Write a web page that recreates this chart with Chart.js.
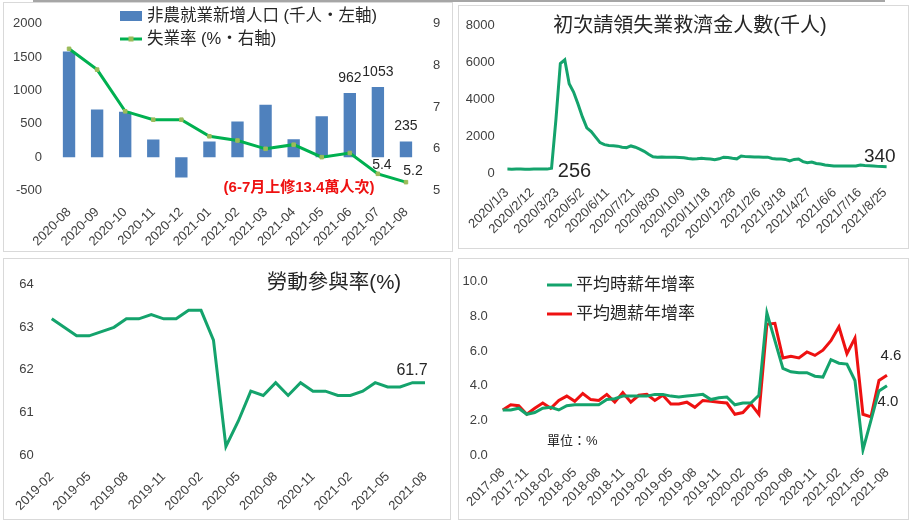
<!DOCTYPE html>
<html>
<head>
<meta charset="utf-8">
<script src="https://cdn.jsdelivr.net/npm/chart.js"></script>
<style>
body { margin: 0; background: #fff; width: 915px; height: 523px; overflow: hidden; position: relative; }
.panel { position: absolute; border: 1px solid #d9d9d9; }
.panel canvas { display: block; }
#topLine { position: absolute; left: 33px; top: 0; width: 852px; height: 2px; background: #a6a6a6; }
</style>
</head>
<body>
<div id="topLine"></div>
<div class="panel" style="left:3px;top:2px;"><canvas id="jobsChart" width="448" height="248"></canvas></div>
<div class="panel" style="left:458px;top:5px;"><canvas id="claimsChart" width="449" height="242"></canvas></div>
<div class="panel" style="left:3px;top:258px;"><canvas id="lfprChart" width="446" height="260"></canvas></div>
<div class="panel" style="left:458px;top:258px;"><canvas id="wageChart" width="449" height="260"></canvas></div>

<script>
// ---- data ----
const jobMonths = ['2020-08', '2020-09', '2020-10', '2020-11', '2020-12', '2021-01', '2021-02',
    '2021-03', '2021-04', '2021-05', '2021-06', '2021-07', '2021-08'];
const payrolls = [1583, 716, 680, 264, -306, 233, 536, 785, 269, 614, 962, 1053, 235];
const unemployment = [8.4, 7.9, 6.9, 6.7, 6.7, 6.3, 6.2, 6.0, 6.1, 5.8, 5.9, 5.4, 5.2];

// weekly initial claims, first week ends 2020/1/4, last 2021/8/28
const claimsAxisStart = new Date(2020, 0, 3);
const claimsFirstDay = 1;
const claims = [212, 207, 218, 215, 205, 203, 212, 217, 216, 211, 256, 2920, 5950, 6150,
    4850, 4400, 3750, 3050, 2450, 2250, 1950, 1650, 1540, 1500, 1480, 1460, 1400, 1380,
    1470, 1400, 1300, 1180, 1020, 880, 860, 870, 860, 850, 850, 840, 830, 790, 760, 770,
    800, 780, 760, 720, 770, 860, 840, 800, 770, 920, 890, 880, 870, 870, 860, 860, 790,
    760, 760, 740, 660, 740, 760, 620, 560, 600, 520, 490, 440, 410, 380, 380, 380, 380,
    375, 385, 430, 410, 400, 380, 360, 350, 340];

const lfprMonths = ['2019-02', '2019-03', '2019-04', '2019-05', '2019-06', '2019-07', '2019-08',
    '2019-09', '2019-10', '2019-11', '2019-12', '2020-01', '2020-02', '2020-03', '2020-04',
    '2020-05', '2020-06', '2020-07', '2020-08', '2020-09', '2020-10', '2020-11', '2020-12',
    '2021-01', '2021-02', '2021-03', '2021-04', '2021-05', '2021-06', '2021-07', '2021-08'];
const lfpr = [63.2, 63.0, 62.8, 62.8, 62.9, 63.0, 63.2, 63.2, 63.3, 63.2, 63.2, 63.4, 63.4,
    62.7, 60.2, 60.8, 61.5, 61.4, 61.7, 61.4, 61.7, 61.5, 61.5, 61.4, 61.4, 61.5, 61.7,
    61.6, 61.6, 61.7, 61.7];

const wageMonths = ['2017-08', '2017-09', '2017-10', '2017-11', '2017-12',
    '2018-01', '2018-02', '2018-03', '2018-04', '2018-05', '2018-06', '2018-07', '2018-08',
    '2018-09', '2018-10', '2018-11', '2018-12', '2019-01', '2019-02', '2019-03', '2019-04',
    '2019-05', '2019-06', '2019-07', '2019-08', '2019-09', '2019-10', '2019-11', '2019-12',
    '2020-01', '2020-02', '2020-03', '2020-04', '2020-05', '2020-06', '2020-07', '2020-08',
    '2020-09', '2020-10', '2020-11', '2020-12', '2021-01', '2021-02', '2021-03', '2021-04',
    '2021-05', '2021-06', '2021-07', '2021-08'];
const hourlyWage = [2.6, 2.6, 2.7, 2.35, 2.45, 2.7, 2.75, 2.6, 2.85, 2.9, 2.9, 2.9, 2.9,
    3.2, 3.25, 3.4, 3.4, 3.4, 3.4, 3.5, 3.5, 3.4, 3.35, 3.4, 3.45, 3.5, 3.2, 3.3, 3.35,
    2.9, 3.0, 3.0, 3.45, 8.2, 6.6, 5.0, 4.8, 4.75, 4.75, 4.55, 4.5, 5.5, 5.3, 5.25, 4.3,
    0.3, 2.0, 3.7, 4.0];
const weeklyWage = [2.6, 2.9, 2.85, 2.35, 2.7, 3.0, 2.7, 3.15, 3.4, 3.1, 3.55, 3.2, 3.15,
    3.5, 3.05, 3.6, 3.05, 3.45, 3.5, 3.15, 3.45, 2.95, 2.95, 3.05, 2.75, 3.15, 3.1, 3.05,
    3.0, 2.35, 2.45, 2.95, 2.35, 7.55, 7.6, 5.6, 5.7, 5.6, 5.95, 5.75, 6.05, 6.6, 7.4,
    5.85, 6.75, 2.35, 2.2, 4.3, 4.6];

// ---- style ----
const FONT = "'Liberation Sans', 'Noto Sans CJK TC', sans-serif";
const BAR_BLUE = '#4f81bd';
const BRIGHT_GREEN = '#00b050';
const MARKER_GREEN = '#9bbb59';
const TEAL_GREEN = '#14a36c';
const RED = '#ee1111';
const TEXT = '#262626';

Chart.defaults.font.family = FONT;
Chart.defaults.font.size = 13;
Chart.defaults.color = '#404040';
Chart.defaults.animation = false;
Chart.defaults.plugins.legend.display = false;
Chart.defaults.plugins.tooltip.enabled = false;

function fixWidth(w) { return function(scale) { scale.width = w; }; }
function fixHeight(h) { return function(scale) { scale.height = h; }; }

function text(ctx, str, x, y, size, color, align, weight) {
    ctx.save();
    ctx.font = (weight || 'normal') + ' ' + size + 'px ' + FONT;
    ctx.fillStyle = color || TEXT;
    ctx.textAlign = align || 'center';
    ctx.textBaseline = 'middle';
    ctx.fillText(str, x, y);
    ctx.restore();
}

function lineSample(ctx, x1, x2, y, color, width) {
    ctx.save();
    ctx.strokeStyle = color;
    ctx.lineWidth = width;
    ctx.beginPath();
    ctx.moveTo(x1, y);
    ctx.lineTo(x2, y);
    ctx.stroke();
    ctx.restore();
}

function hiddenGrid() {
    return { display: false, drawTicks: false };
}

function plain(v) {
    return String(v);
}

function everyThird(val, idx) {
    return idx % 3 === 0 ? this.getLabelForValue(val) : '';
}

function dateLabel(v) {
    const d = new Date(claimsAxisStart.getTime());
    d.setDate(d.getDate() + v);
    return d.getFullYear() + '/' + (d.getMonth() + 1) + '/' + d.getDate();
}

// ---- chart 1: payrolls + unemployment ----
new Chart(document.getElementById('jobsChart'), {
    type: 'bar',
    data: {
        labels: jobMonths,
        datasets: [{
            type: 'line',
            label: '失業率 (%‧右軸)',
            data: unemployment,
            yAxisID: 'y1',
            borderColor: BRIGHT_GREEN,
            borderWidth: 3,
            pointStyle: 'rect',
            pointRadius: 2.5,
            pointBackgroundColor: MARKER_GREEN,
            pointBorderColor: MARKER_GREEN,
            pointBorderWidth: 1,
            tension: 0
        }, {
            type: 'bar',
            label: '非農就業新增人口 (千人‧左軸)',
            data: payrolls,
            yAxisID: 'y',
            backgroundColor: BAR_BLUE,
            categoryPercentage: 1,
            barPercentage: 0.44
        }]
    },
    options: {
        responsive: false,
        layout: { padding: { top: 10.5, right: 0, left: 0, bottom: 0 } },
        scales: {
            x: {
                grid: hiddenGrid(),
                border: { display: false },
                ticks: { maxRotation: 45, minRotation: 45, autoSkip: false, padding: 14 },
                afterFit: fixHeight(60.5)
            },
            y: {
                position: 'left',
                min: -500, max: 2000,
                grid: hiddenGrid(),
                border: { display: false },
                ticks: { stepSize: 500, padding: 13, callback: plain },
                afterFit: fixWidth(51)
            },
            y1: {
                position: 'right',
                min: 5, max: 9,
                grid: hiddenGrid(),
                border: { display: false },
                ticks: { stepSize: 1, padding: 13 },
                afterFit: fixWidth(32)
            }
        }
    },
    plugins: [{
        id: 'jobsNotes',
        afterDraw(chart) {
            const ctx = chart.ctx;
            ctx.fillStyle = BAR_BLUE;
            ctx.fillRect(116, 8, 22, 10);
            text(ctx, '非農就業新增人口 (千人‧左軸)', 143, 13, 16.5, TEXT, 'left');
            lineSample(ctx, 116, 138, 36, BRIGHT_GREEN, 3);
            ctx.fillStyle = MARKER_GREEN;
            ctx.fillRect(124.5, 33.5, 5, 5);
            text(ctx, '失業率 (%‧右軸)', 143, 36, 16.5, TEXT, 'left');

            text(ctx, '(6-7月上修13.4萬人次)', 295, 185, 15, RED, 'center', 'bold');

            const bars = chart.getDatasetMeta(1).data;
            [10, 11, 12].forEach(i => {
                text(ctx, String(payrolls[i]), bars[i].x, bars[i].y - 15, 14);
            });
            const pts = chart.getDatasetMeta(0).data;
            text(ctx, unemployment[11].toFixed(1), pts[11].x + 4, pts[11].y - 9, 14);
            text(ctx, unemployment[12].toFixed(1), pts[12].x + 7, pts[12].y - 11, 14);
        }
    }]
});

// ---- chart 2: initial claims ----
const claimPoints = claims.map((v, i) => ({ x: claimsFirstDay + 7 * i, y: v }));

new Chart(document.getElementById('claimsChart'), {
    type: 'line',
    data: {
        datasets: [{
            label: '初次請領失業救濟金人數(千人)',
            data: claimPoints,
            borderColor: TEAL_GREEN,
            borderWidth: 3,
            pointRadius: 0,
            tension: 0
        }]
    },
    options: {
        responsive: false,
        layout: { padding: { top: 15, right: 18.5, left: 0, bottom: 0 } },
        scales: {
            x: {
                type: 'linear',
                min: 0, max: claimsFirstDay + 7 * (claims.length - 1),
                grid: hiddenGrid(),
                border: { display: false },
                ticks: {
                    stepSize: 40, includeBounds: false, autoSkip: false,
                    maxRotation: 45, minRotation: 45, padding: 12,
                    callback: dateLabel
                },
                afterFit: fixHeight(75)
            },
            y: {
                min: 0, max: 8000,
                grid: hiddenGrid(),
                border: { display: false },
                ticks: { stepSize: 2000, padding: 12, callback: plain },
                afterFit: fixWidth(43.4)
            }
        }
    },
    plugins: [{
        id: 'claimsNotes',
        afterDraw(chart) {
            const ctx = chart.ctx;
            text(ctx, '初次請領失業救濟金人數(千人)', 231, 20, 20);
            const pts = chart.getDatasetMeta(0).data;
            text(ctx, String(claims[10]), pts[10].x + 23, pts[10].y + 3, 20);
            const last = pts[pts.length - 1];
            text(ctx, String(claims[claims.length - 1]), last.x - 7, last.y - 10, 19);
        }
    }]
});

// ---- chart 3: labour force participation ----
new Chart(document.getElementById('lfprChart'), {
    type: 'line',
    data: {
        labels: lfprMonths,
        datasets: [{
            label: '勞動參與率(%)',
            data: lfpr,
            borderColor: TEAL_GREEN,
            borderWidth: 3,
            pointRadius: 0,
            tension: 0
        }]
    },
    options: {
        responsive: false,
        layout: { padding: { top: 9.3, right: 20, left: 0, bottom: 0 } },
        scales: {
            x: {
                grid: hiddenGrid(),
                border: { display: false },
                ticks: { maxRotation: 45, minRotation: 45, autoSkip: false, padding: 14, callback: everyThird },
                afterFit: fixHeight(64)
            },
            y: {
                min: 60, max: 64,
                grid: hiddenGrid(),
                border: { display: false },
                ticks: { stepSize: 1, padding: 18 },
                afterFit: fixWidth(47.7)
            }
        }
    },
    plugins: [{
        id: 'lfprNotes',
        afterDraw(chart) {
            const ctx = chart.ctx;
            text(ctx, '勞動參與率(%)', 330, 24, 20.5);
            const pts = chart.getDatasetMeta(0).data;
            const last = pts[pts.length - 1];
            text(ctx, lfpr[lfpr.length - 1].toFixed(1), last.x - 13, last.y - 12, 16);
        }
    }]
});

// ---- chart 4: wage growth ----
new Chart(document.getElementById('wageChart'), {
    type: 'line',
    data: {
        labels: wageMonths,
        datasets: [{
            label: '平均時薪年增率',
            data: hourlyWage,
            borderColor: TEAL_GREEN,
            borderWidth: 3,
            pointRadius: 0,
            tension: 0
        }, {
            label: '平均週薪年增率',
            data: weeklyWage,
            borderColor: RED,
            borderWidth: 3,
            pointRadius: 0,
            tension: 0
        }]
    },
    options: {
        responsive: false,
        layout: { padding: { top: 16.7, right: 19.7, left: 0, bottom: 0 } },
        scales: {
            x: {
                grid: hiddenGrid(),
                border: { display: false },
                ticks: { maxRotation: 45, minRotation: 45, autoSkip: false, padding: 10, callback: everyThird },
                afterFit: fixHeight(64)
            },
            y: {
                min: 0, max: 10,
                grid: hiddenGrid(),
                border: { display: false },
                ticks: { stepSize: 2, padding: 15, callback: v => v.toFixed(1) },
                afterFit: fixWidth(43.7)
            }
        }
    },
    plugins: [{
        id: 'wageNotes',
        afterDraw(chart) {
            const ctx = chart.ctx;
            lineSample(ctx, 88, 113, 26, TEAL_GREEN, 3);
            text(ctx, '平均時薪年增率', 117, 26, 17, TEXT, 'left');
            lineSample(ctx, 88, 113, 55, RED, 3);
            text(ctx, '平均週薪年增率', 117, 55, 17, TEXT, 'left');
            text(ctx, '單位：%', 88, 182, 13, TEXT, 'left');

            const green = chart.getDatasetMeta(0).data;
            const red = chart.getDatasetMeta(1).data;
            const g = green[green.length - 1];
            const r = red[red.length - 1];
            text(ctx, weeklyWage[weeklyWage.length - 1].toFixed(1), r.x + 4, r.y - 19, 15);
            text(ctx, hourlyWage[hourlyWage.length - 1].toFixed(1), g.x + 1, g.y + 16, 15);
        }
    }]
});
</script>
</body>
</html>
